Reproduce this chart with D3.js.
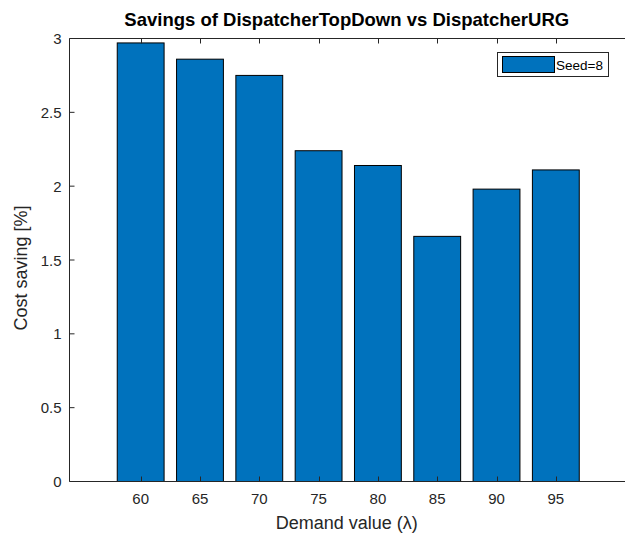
<!DOCTYPE html>
<html>
<head>
<meta charset="utf-8">
<script src="https://cdn.jsdelivr.net/npm/d3@7"></script>
<style>
  html, body { margin: 0; padding: 0; background: #fff; }
  svg { display: block; font-family: "Liberation Sans", Arial, Helvetica, sans-serif; }
</style>
</head>
<body>
<svg id="chart" width="625" height="537"></svg>
<script>
// Demand levels and the cost saving (%) of the top-down dispatcher over URG
const demand = [60, 65, 70, 75, 80, 85, 90, 95];
const saving = [2.97, 2.86, 2.75, 2.24, 2.14, 1.66, 1.98, 2.11];
const yTicks = [0, 0.5, 1, 1.5, 2, 2.5, 3];
const seriesName = "Seed=8";

const svg = d3.select("#chart");
const plotL = 69.5, plotR = 627, plotT = 38.5, plotB = 481.5;
const axisColor = "#262626";
const barColor = "#0072BD";

const x = d3.scaleLinear().domain([54, 101]).range([plotL, plotR]);
const y = d3.scaleLinear().domain([0, 3]).range([plotB, plotT]);
const step = x(65) - x(60);
const barW = step * 0.79;

// white plot background
svg.append("rect").attr("x", plotL).attr("y", plotT)
  .attr("width", plotR - plotL).attr("height", plotB - plotT).attr("fill", "#fff");

// bars
svg.append("g").selectAll("rect").data(demand).join("rect")
  .attr("x", d => x(d) - barW / 2)
  .attr("y", (d, i) => y(saving[i]))
  .attr("width", barW)
  .attr("height", (d, i) => y(0) - y(saving[i]))
  .attr("fill", barColor)
  .attr("stroke", "#000")
  .attr("stroke-width", 1);

// axis box lines
const box = svg.append("g").attr("stroke", axisColor).attr("stroke-width", 1).attr("fill", "none");
box.append("line").attr("x1", plotL).attr("x2", plotR).attr("y1", plotB).attr("y2", plotB);
box.append("line").attr("x1", plotL).attr("x2", plotR).attr("y1", plotT).attr("y2", plotT);
box.append("line").attr("x1", plotL).attr("x2", plotL).attr("y1", plotT).attr("y2", plotB);

// inward ticks (bottom/top for x, left for y)
const tl = 5;
demand.forEach(d => {
  const px = Math.round(x(d)) + 0.5;
  box.append("line").attr("x1", px).attr("x2", px).attr("y1", plotB).attr("y2", plotB - tl);
  box.append("line").attr("x1", px).attr("x2", px).attr("y1", plotT).attr("y2", plotT + tl);
});
yTicks.forEach(t => {
  const py = y(t);
  box.append("line").attr("x1", plotL).attr("x2", plotL + tl).attr("y1", py).attr("y2", py);
});

// tick labels
svg.append("g").selectAll("text").data(demand).join("text")
  .attr("x", d => x(d)).attr("y", 504)
  .attr("text-anchor", "middle").attr("font-size", 15).attr("fill", axisColor)
  .text(d => d);
svg.append("g").selectAll("text").data(yTicks).join("text")
  .attr("x", plotL - 8).attr("y", d => y(d) + 5.5)
  .attr("text-anchor", "end").attr("font-size", 15).attr("fill", axisColor)
  .text(d => d);

// axis titles
svg.append("text").attr("x", (plotL + 624) / 2).attr("y", 529)
  .attr("text-anchor", "middle").attr("font-size", 18).attr("fill", axisColor)
  .text("Demand value (λ)");
svg.append("text")
  .attr("transform", `translate(27, ${(plotT + plotB) / 2 + 8}) rotate(-90)`)
  .attr("text-anchor", "middle").attr("font-size", 18).attr("fill", axisColor)
  .text("Cost saving [%]");

// chart title
svg.append("text").attr("x", (plotL + 624) / 2).attr("y", 26)
  .attr("text-anchor", "middle").attr("font-size", 18.5).attr("font-weight", "bold")
  .attr("fill", "#000")
  .text("Savings of DispatcherTopDown vs DispatcherURG");

// legend
const lg = svg.append("g");
lg.append("rect").attr("x", 497.5).attr("y", 52.5).attr("width", 111).attr("height", 24)
  .attr("fill", "#fff").attr("stroke", axisColor).attr("stroke-width", 1);
lg.append("rect").attr("x", 502.5).attr("y", 56.5).attr("width", 52).attr("height", 16)
  .attr("fill", barColor).attr("stroke", "#000").attr("stroke-width", 1);
lg.append("text").attr("x", 556).attr("y", 69.5).attr("font-size", 13.5).attr("fill", "#000")
  .text(seriesName);
</script>
</body>
</html>
